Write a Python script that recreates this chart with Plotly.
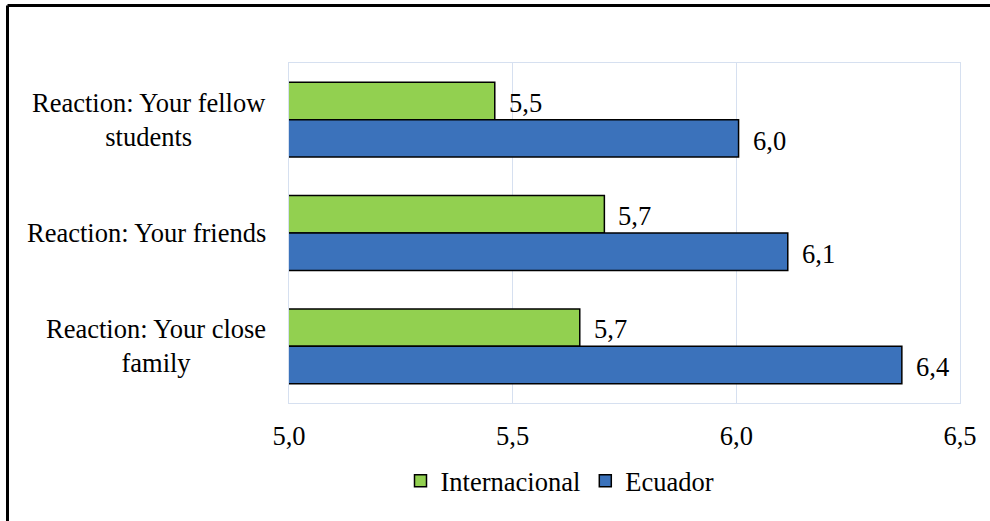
import plotly.graph_objects as go

# Mean reaction scores by reference group
categories = ["Reaction: Your fellow<br>students", "Reaction: Your friends", "Reaction: Your close<br>family"]
internacional = [5.46, 5.705, 5.65]
ecuador = [6.005, 6.115, 6.37]
series_names = ["Internacional", "Ecuador"]
x_ticks = [5.0, 5.5, 6.0, 6.5]

FONT = "Liberation Serif"
FS = 26.5
GREEN = "#92d050"
BLUE = "#3b72bb"
GRID = "#d6e0f0"

W, H = 990, 521
L, R, T, B = 289, 30, 63, 118
PW, PH = W - L - R, H - T - B


def px_to_paper_x(px):
    return (px - L) / PW


def px_to_paper_y(py):
    return (H - B - py) / PH


fig = go.Figure()
for name, vals, color in [(series_names[0], internacional, GREEN), (series_names[1], ecuador, BLUE)]:
    fig.add_trace(go.Bar(
        y=categories, x=vals, name=name, orientation="h",
        marker=dict(color=color, line=dict(color="black", width=1.5)),
        base=0,
    ))

annotations = []
# value labels next to each bar end
for vals, shift in [(internacional, 17), (ecuador, -21)]:
    for cat, v in zip(categories, vals):
        annotations.append(dict(
            x=v, y=cat, xref="x", yref="y", text=f"{v:.1f}".replace(".", ","),
            showarrow=False, xanchor="left", yanchor="middle", xshift=12, yshift=shift,
            font=dict(family=FONT, size=FS, color="black"),
        ))
# category labels, centred lines
for cat in categories:
    annotations.append(dict(
        x=px_to_paper_x(268), y=cat, xref="paper", yref="y", text=cat,
        showarrow=False, xanchor="right", yanchor="middle", align="center",
        font=dict(family=FONT, size=FS, color="black"),
    ))

# outer frame (top and left edges)
shapes = [
    dict(type="line", xref="paper", yref="paper",
         x0=px_to_paper_x(7.5), x1=px_to_paper_x(1000), y0=px_to_paper_y(5.5), y1=px_to_paper_y(5.5),
         line=dict(color="black", width=3)),
    dict(type="line", xref="paper", yref="paper",
         x0=px_to_paper_x(7.5), x1=px_to_paper_x(7.5), y0=px_to_paper_y(5.5), y1=px_to_paper_y(530),
         line=dict(color="black", width=3)),
]

fig.update_layout(
    width=W, height=H,
    margin=dict(l=L, r=R, t=T, b=B),
    paper_bgcolor="white", plot_bgcolor="white",
    barmode="group", bargap=0.34, bargroupgap=0,
    separators=", ",
    font=dict(family=FONT, size=FS, color="black"),
    showlegend=True,
    legend=dict(
        orientation="h", x=px_to_paper_x(560), xanchor="center",
        y=px_to_paper_y(481), yanchor="middle",
        font=dict(family=FONT, size=FS, color="black"),
        itemwidth=30, traceorder="normal",
    ),
    annotations=annotations,
    shapes=shapes,
)
fig.update_xaxes(
    range=[5.0, 6.5], tickvals=x_ticks, tickformat=".1f",
    showgrid=True, gridcolor=GRID, gridwidth=1,
    showline=True, linecolor=GRID, mirror=True, zeroline=False,
    ticks="", ticklabelstandoff=9,
    tickfont=dict(family=FONT, size=FS, color="black"),
)
fig.update_yaxes(
    autorange="reversed", showticklabels=False,
    showline=True, linecolor=GRID, mirror=True, showgrid=False,
)

fig.write_html("out.html")
